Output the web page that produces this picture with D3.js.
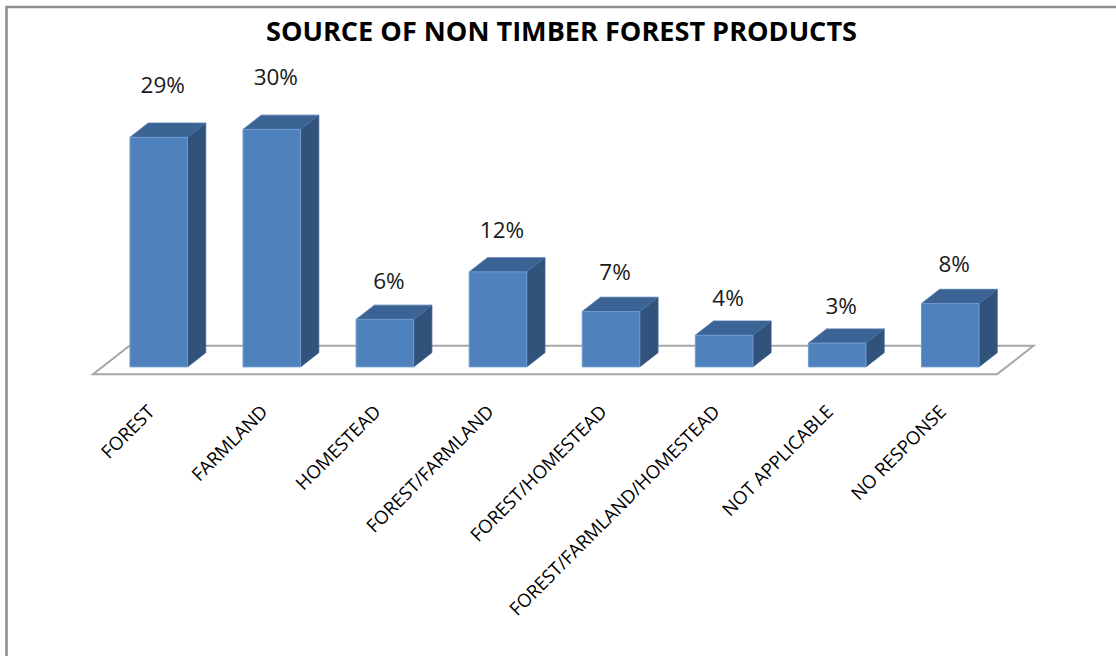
<!DOCTYPE html>
<html>
<head>
<meta charset="utf-8">
<script src="https://cdn.jsdelivr.net/npm/d3@7"></script>
<style>
  html, body { margin: 0; padding: 0; background: #fff; }
  svg { display: block; font-family: "Open Sans", "Noto Sans", sans-serif; }
</style>
</head>
<body>
<svg id="chart" width="1116" height="656"></svg>
<script>
// Source of non timber forest products (% of respondents)
const categories = [
  "FOREST", "FARMLAND", "HOMESTEAD", "FOREST/FARMLAND",
  "FOREST/HOMESTEAD", "FOREST/FARMLAND/HOMESTEAD", "NOT APPLICABLE", "NO RESPONSE"
];
const percentValues = [29, 30, 6, 12, 7, 4, 3, 8];
const titleText = "SOURCE OF NON TIMBER FOREST PRODUCTS";

const svg = d3.select("#chart");

// Frame of the chart area (top and left edges visible)
svg.append("path")
  .attr("d", "M6.5,656 L6.5,7 L1116,7")
  .attr("fill", "none")
  .attr("stroke", "#8f8f8f")
  .attr("stroke-width", 2.6);

// Title
svg.append("text")
  .attr("x", 561.5)
  .attr("y", 40.5)
  .attr("text-anchor", "middle")
  .attr("font-size", 26)
  .attr("font-weight", 700)
  .attr("fill", "#000")
  .attr("textLength", 591)
  .attr("lengthAdjust", "spacingAndGlyphs")
  .text(titleText);

// Oblique 3D projection: floor front edge + depth vector
const floorFrontY = 374.3;
const depthVec = [36.5, -28.5];        // full floor depth
const barDepth0 = 0.26, barDepth1 = 0.76; // bar front/back position within floor depth

const x = d3.scaleBand()
  .domain(categories)
  .range([93, 997])
  .paddingInner(0.491)
  .paddingOuter(0.243);

const h = d3.scaleLinear().domain([0, 30]).range([0, 237.5]);

const proj = (px, py, d) => [px + depthVec[0] * d, py + depthVec[1] * d];

// Floor
const floorPts = [
  proj(93, floorFrontY, 0), proj(997, floorFrontY, 0),
  proj(997, floorFrontY, 1), proj(93, floorFrontY, 1)
];
svg.append("polygon")
  .attr("points", floorPts.map(p => p.join(",")).join(" "))
  .attr("fill", "#fff")
  .attr("stroke", "#a6a6a6")
  .attr("stroke-width", 2);

const data = categories.map((c, i) => ({ cat: c, v: percentValues[i] }));

const bars = svg.append("g").selectAll("g.bar").data(data).enter().append("g").attr("class", "bar");

bars.each(function(d) {
  const g = d3.select(this);
  const x0 = x(d.cat), x1 = x0 + x.bandwidth();
  const base = floorFrontY;
  const top = base - h(d.v);
  const fbl = proj(x0, base, barDepth0), fbr = proj(x1, base, barDepth0);
  const ftl = proj(x0, top, barDepth0), ftr = proj(x1, top, barDepth0);
  const bbr = proj(x1, base, barDepth1);
  const btl = proj(x0, top, barDepth1), btr = proj(x1, top, barDepth1);
  const poly = pts => pts.map(p => p.join(",")).join(" ");

  // side face
  g.append("polygon").attr("points", poly([fbr, ftr, btr, bbr]))
    .attr("fill", "#30527b").attr("stroke", "#3e6291").attr("stroke-width", 0.8);
  // top face
  g.append("polygon").attr("points", poly([ftl, ftr, btr, btl]))
    .attr("fill", "#3b6394").attr("stroke", "#4a74a8").attr("stroke-width", 0.8);
  // front face
  g.append("polygon").attr("points", poly([fbl, fbr, ftr, ftl]))
    .attr("fill", "#4f81bd").attr("stroke", "#6f9ad0").attr("stroke-width", 1);

  // value label
  const cx = (fbl[0] + fbr[0]) / 2;
  const barH = h(d.v);
  g.append("text")
    .attr("x", cx + 4)
    .attr("y", ftl[1] - (27 + 0.075 * barH))
    .attr("text-anchor", "middle")
    .attr("font-size", 22.5)
    .attr("fill", "#1a1a1a")
    .text(d.v + "%");

  // category label
  const lx = cx - 3, ly = 413;
  g.append("text")
    .attr("transform", `translate(${lx},${ly}) rotate(-45)`)
    .attr("text-anchor", "end")
    .attr("font-size", 18.5)
    .attr("fill", "#000")
    .text(d.cat);
});
</script>
</body>
</html>
